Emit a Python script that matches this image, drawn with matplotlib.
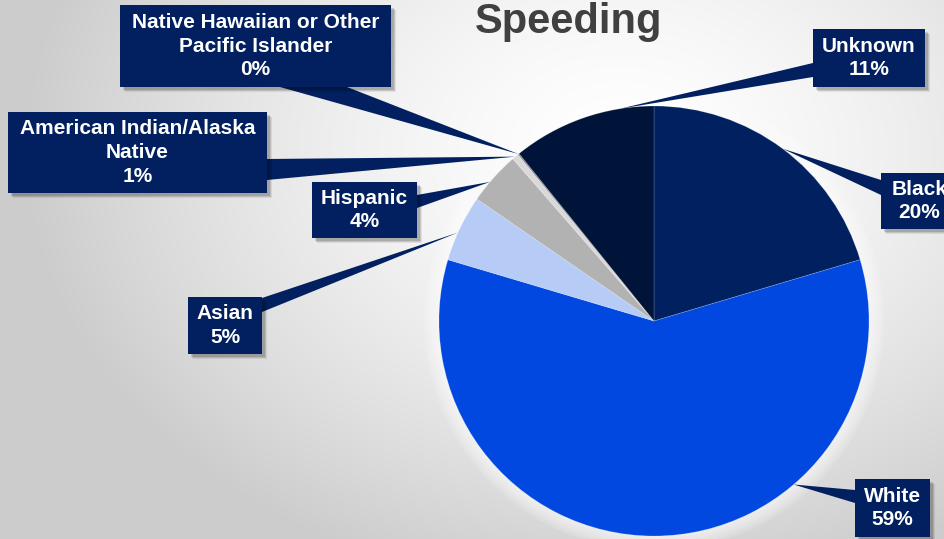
import matplotlib.pyplot as plt
import numpy as np
from matplotlib.patches import Rectangle, Polygon, Circle

# slices, clockwise from 12 o'clock
groups = ["Black", "White", "Asian", "Hispanic",
          "American Indian/Alaska\nNative",
          "Native Hawaiian or Other\nPacific Islander", "Unknown"]
shares = [20.4, 59.2, 5.0, 4.0, 0.5, 0.1, 10.8]
shown_pct = [20, 59, 5, 4, 1, 0, 11]
colors = ["#002060", "#0048e0", "#b7cbf7", "#b2b2b2", "#d9d9d9", "#7f7f7f", "#001339"]

W, H = 945, 539
cx, cy, rad = 654, H - 321, 215
navy = "#022060"

# label boxes as (left, top, right, bottom), pixels from the top-left corner
boxes = [(881, 173, 958, 229), (855, 479, 930, 537), (188, 297, 262, 354),
         (312, 182, 417, 238), (8, 112, 267, 193), (120, 5, 391, 87),
         (813, 29, 925, 87)]
# where the leader leaves the box, and how far (clockwise) along the wedge it lands
leader_base = [((881, 180), (881, 195)), ((855, 490), (855, 503)),
               ((262, 298), (262, 312)), ((417, 195), (417, 208)),
               ((267, 159), (267, 180)), ((280, 87), (347, 87)),
               ((813, 63), (813, 77))]
leader_pos = [0.5, 0.31, 0.43, 0.4, 0.5, 0.5, 0.77]

fig = plt.figure(figsize=(W / 100, H / 100), dpi=100)
ax = fig.add_axes([0, 0, 1, 1])

# soft grey background, lighter towards the upper middle
xs, ys = np.meshgrid(np.arange(W), np.arange(H))
d = np.sqrt(((xs - 620) / 600.0) ** 2 + ((ys - (H - 150)) / 450.0) ** 2)
grey = 1 - 0.2 * np.clip(d, 0, 1) ** 1.5
ax.imshow(np.dstack([grey, grey, grey]), extent=(0, W, 0, H), origin="lower",
          zorder=0, interpolation="bilinear")

# white glow around the pie
for k in range(1, 6):
    ax.add_patch(Circle((cx, cy), rad + 3 * k, color="white", alpha=0.15, lw=0, zorder=0.5))

wedges, _ = ax.pie(shares, colors=colors, startangle=90, counterclock=False,
                   center=(cx, cy), radius=rad,
                   wedgeprops=dict(linewidth=0.6, edgecolor=(1, 1, 1, 0.2)))

for w, name, pct, box, base, pos in zip(wedges, groups, shown_pct, boxes,
                                         leader_base, leader_pos):
    theta = np.radians(w.theta2 - pos * (w.theta2 - w.theta1))
    tip = (cx + rad * np.cos(theta), cy + rad * np.sin(theta))
    pts = [(base[0][0], H - base[0][1]), (base[1][0], H - base[1][1]), tip]
    ax.add_patch(Polygon(pts, closed=True, color=navy, lw=0, zorder=3))

    left, top, right, bottom = box
    for off, a in [(5, 0.08), (4, 0.1), (3, 0.14)]:
        ax.add_patch(Rectangle((left + off, H - bottom - off), right - left, bottom - top,
                               color="black", alpha=a, lw=0, zorder=3.5))
    ax.add_patch(Rectangle((left, H - bottom), right - left, bottom - top,
                           color=navy, lw=0, zorder=4))
    ax.text((left + right) / 2, H - (top + bottom) / 2,
            "{}\n{}%".format(name, pct), ha="center", va="center", color="white",
            fontsize=15, fontweight="bold", family="Liberation Sans",
            linespacing=1.3, zorder=5)

ax.text(569, H - 22, "Speeding", ha="center", va="center", fontsize=30,
        fontweight="bold", family="Liberation Sans", color="#404040", zorder=5)

ax.set_xlim(0, W)
ax.set_ylim(0, H)
ax.set_aspect("auto")
ax.axis("off")

fig.savefig("out.png", dpi=100)
